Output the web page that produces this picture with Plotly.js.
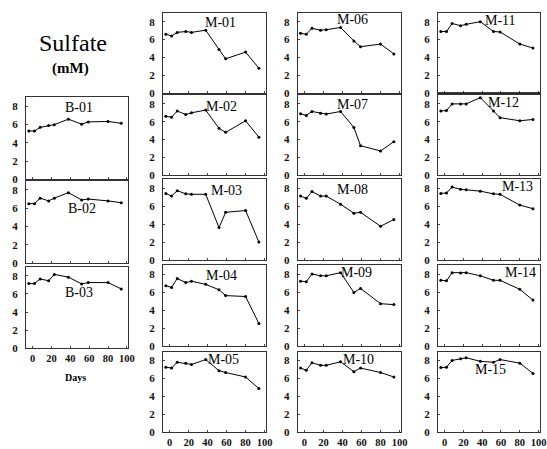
<!DOCTYPE html>
<html><head><meta charset="utf-8">
<script src="https://cdn.plot.ly/plotly-3.0.1.min.js"></script>
<style>html,body{margin:0;padding:0;background:#fff}#chart{width:547px;height:449px}</style>
</head><body><div id="chart"></div>
<script>
// ---- data ----
const days = [-4, 2, 8, 17, 23, 38, 52, 59, 80, 94];
const panelNames = ['B-01','B-02','B-03','M-01','M-02','M-03','M-04','M-05','M-06','M-07','M-08','M-09','M-10','M-11','M-12','M-13','M-14','M-15'];
const B01 = [5.3, 5.3, 5.7, 5.9, 6.0, 6.6, 6.05, 6.3, 6.35, 6.15];
const B02 = [6.5, 6.5, 7.1, 6.8, 7.1, 7.7, 6.9, 7.0, 6.8, 6.6];
const B03 = [7.15, 7.15, 7.65, 7.45, 8.15, 7.85, 7.1, 7.25, 7.25, 6.55];
const M01 = [6.6, 6.4, 6.8, 6.9, 6.8, 7.05, 4.9, 3.85, 4.6, 2.8];
const M02 = [6.6, 6.5, 7.2, 6.8, 7.0, 7.3, 5.25, 4.8, 6.1, 4.25];
const M03 = [7.4, 7.1, 7.7, 7.35, 7.3, 7.3, 3.6, 5.3, 5.5, 2.0];
const M04 = [6.7, 6.5, 7.5, 7.05, 7.2, 6.85, 6.25, 5.6, 5.5, 2.5];
const M05 = [7.25, 7.15, 7.8, 7.7, 7.55, 8.1, 6.85, 6.65, 6.15, 4.85];
const M06 = [6.7, 6.6, 7.25, 7.05, 7.1, 7.35, 5.85, 5.2, 5.5, 4.4];
const M07 = [6.9, 6.7, 7.15, 6.95, 6.85, 7.15, 5.35, 3.3, 2.7, 3.75];
const M08 = [7.1, 6.85, 7.6, 7.1, 7.1, 6.2, 5.2, 5.3, 3.75, 4.5];
const M09 = [7.2, 7.15, 8.0, 7.8, 7.8, 8.15, 5.95, 6.4, 4.7, 4.6];
const M10 = [7.15, 6.9, 7.75, 7.45, 7.45, 7.85, 6.75, 7.15, 6.65, 6.15];
const M11 = [6.9, 6.9, 7.8, 7.55, 7.7, 8.0, 6.9, 6.85, 5.5, 5.05];
const M12 = [7.2, 7.25, 8.0, 8.0, 8.0, 8.7, 7.2, 6.45, 6.1, 6.25];
const M13 = [7.4, 7.45, 8.1, 7.85, 7.8, 7.65, 7.35, 7.3, 6.1, 5.7];
const M14 = [7.3, 7.25, 8.15, 8.1, 8.15, 7.8, 7.3, 7.3, 6.3, 5.1];
const M15 = [7.2, 7.25, 8.0, 8.2, 8.3, 7.9, 7.8, 8.1, 7.7, 6.55];
const seriesValues = [B01,B02,B03,M01,M02,M03,M04,M05,M06,M07,M08,M09,M10,M11,M12,M13,M14,M15];
const xTicks = [0, 20, 40, 60, 80, 100];
const yTicks = [0, 2, 4, 6, 8];

// ---- geometry (pixels) ----
const W = 547, H = 449;
const colX = [[26,128.3],[163,266],[297.7,401],[438,540]];
const bRows = [[97.3,179.3],[180.7,263.3],[266.7,348.3]];
const mRows = [[12.7,93.3],[95,175],[179,260],[265,346],[351.5,432]];
const titlePos = [[79,107],[81.7,209],[79.3,292.7],
  [220,22.7],[221.7,106],[226,190.7],[221.7,275],[223.3,359.3],
  [352.3,20],[352.3,104],[352.3,189],[356.7,272.7],[358.3,359.3],
  [500.7,20.7],[503.3,102.7],[517.3,186],[520,272.7],[490,369]];

const serif = 'Liberation Serif';
const yTickFont = {family: serif, size: 11, color: '#111', weight: 'bold'};
const xTickFont = {family: serif, size: 10.5, color: '#111', weight: 'bold'};
const traces = [];
const layout = {
  width: W, height: H, margin: {l:0, r:0, t:0, b:0},
  paper_bgcolor: '#fff', plot_bgcolor: '#fff', showlegend: false,
  font: {family: serif},
  annotations: [], shapes: []
};

panelNames.forEach((name, i) => {
  let col, row, bottom;
  if (i < 3) { col = 0; row = bRows[i]; bottom = (i === 2); }
  else { const j = i - 3; col = 1 + Math.floor(j / 5); row = mRows[j % 5]; bottom = (j % 5 === 4); }
  const sfx = i === 0 ? '' : String(i + 1);
  traces.push({
    x: days, y: seriesValues[i], xaxis: 'x' + sfx, yaxis: 'y' + sfx,
    type: 'scatter', mode: 'lines+markers', name: name,
    line: {color: '#000', width: 1},
    marker: {color: '#000', size: 3}
  });
  const common = {
    showline: true, mirror: true, linecolor: '#333', linewidth: 1,
    showgrid: false, zeroline: false, ticks: 'inside', ticklen: 2,
    tickcolor: '#444', fixedrange: true
  };
  layout['xaxis' + sfx] = Object.assign({}, common, {
    domain: [colX[col][0] / W, colX[col][1] / W], range: [-7, 101.5],
    anchor: 'y' + sfx, tickvals: xTicks, showticklabels: bottom,
    tickfont: xTickFont, ticklabelstandoff: 0
  });
  layout['yaxis' + sfx] = Object.assign({}, common, {
    domain: [1 - row[1] / H, 1 - row[0] / H], range: [0, 9],
    anchor: 'x' + sfx, tickvals: yTicks, tickfont: yTickFont, ticklabelstandoff: 5
  });
  layout.annotations.push({
    text: name, xref: 'paper', yref: 'paper',
    x: titlePos[i][0] / W, y: 1 - titlePos[i][1] / H,
    xanchor: 'center', yanchor: 'middle', showarrow: false,
    font: {family: serif, size: 14, color: '#000'}
  });
});

layout.annotations.push(
  {text: 'Sulfate', xref: 'paper', yref: 'paper', x: 73 / W, y: 1 - 43 / H,
   xanchor: 'center', yanchor: 'middle', showarrow: false,
   font: {family: serif, size: 24, color: '#000'}},
  {text: '(mM)', xref: 'paper', yref: 'paper', x: 71 / W, y: 1 - 68.5 / H,
   xanchor: 'center', yanchor: 'middle', showarrow: false,
   font: {family: serif, size: 15, color: '#000', weight: 'bold'}},
  {text: 'Days', xref: 'paper', yref: 'paper', x: 75 / W, y: 1 - 377 / H,
   xanchor: 'center', yanchor: 'middle', showarrow: false,
   font: {family: serif, size: 10, color: '#000', weight: 'bold'}}
);
// heavy baseline under M-11
layout.shapes.push({type: 'line', xref: 'x14 domain', x0: 0, x1: 1, yref: 'y14', y0: 0, y1: 0,
  line: {color: '#000', width: 2}});

Plotly.newPlot('chart', traces, layout, {staticPlot: true, displayModeBar: false});
</script>
</body></html>
